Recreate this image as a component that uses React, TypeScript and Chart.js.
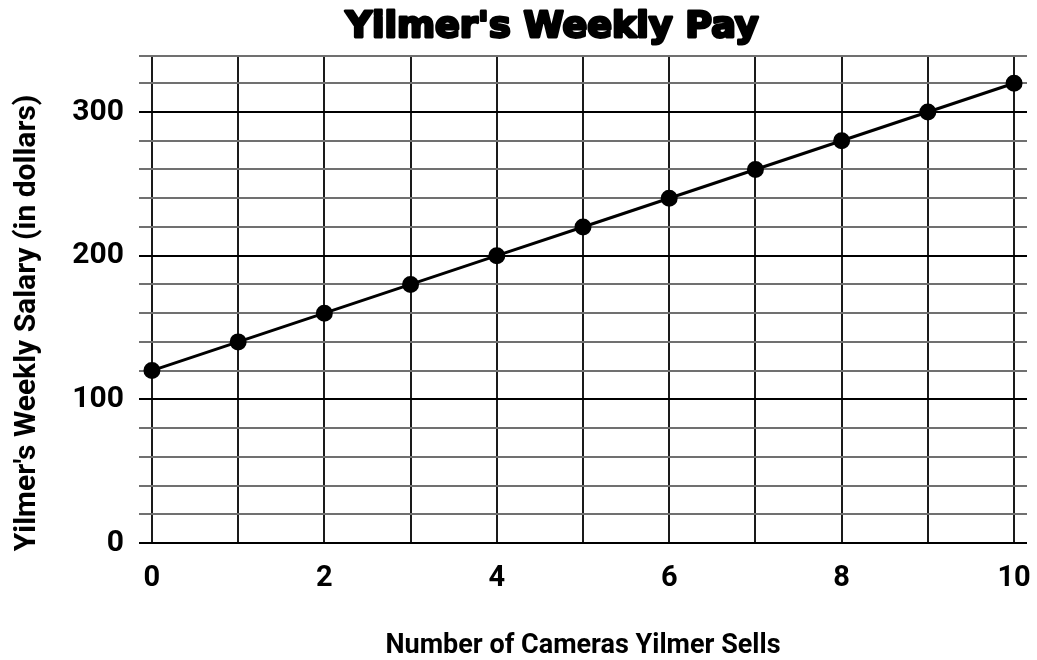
import React, { useEffect, useRef } from "react";
import { Chart, registerables } from "chart.js";

Chart.register(...registerables);

const chartTitle = "Yilmer's Weekly Pay";
const yAxisTitle = "Yilmer's Weekly Salary (in dollars)";
const xAxisTitle = "Number of Cameras Yilmer Sells";
const cameras = [0, 1, 2, 3, 4, 5, 6, 7, 8, 9, 10];
const salary = [120, 140, 160, 180, 200, 220, 240, 260, 280, 300, 320];
const xTicks = [0, 1, 2, 3, 4, 5, 6, 7, 8, 9, 10];
const yTicks = [0, 20, 40, 60, 80, 100, 120, 140, 160, 180, 200, 220, 240, 260, 280, 300, 320, 339];

const titlePlugin = {
  id: "heavyTitle",
  afterDraw(chart: any) {
    const ctx = chart.ctx;
    ctx.save();
    ctx.font = "bold 36px 'DejaVu Sans'";
    const w = ctx.measureText(chartTitle).width;
    const target = 413;
    ctx.translate(552, 37);
    ctx.scale(target / w, 1);
    ctx.textAlign = "center";
    ctx.textBaseline = "alphabetic";
    ctx.fillStyle = "#000";
    ctx.strokeStyle = "#000";
    ctx.lineWidth = 2.8;
    ctx.lineJoin = "round";
    ctx.fillText(chartTitle, 0, 0);
    ctx.strokeText(chartTitle, 0, 0);
    ctx.restore();

    ctx.save();
    ctx.translate(27, 323);
    ctx.rotate(-Math.PI / 2);
    ctx.font = "bold 30px Roboto";
    ctx.textAlign = "center";
    ctx.textBaseline = "middle";
    ctx.fillStyle = "#000";
    ctx.fillText(yAxisTitle, 0, 0);
    ctx.restore();
  },
};

export default function App() {
  const ref = useRef<HTMLCanvasElement | null>(null);
  useEffect(() => {
    if (!ref.current) return;
    const chart = new Chart(ref.current, {
      type: "line",
      data: {
        datasets: [
          {
            data: cameras.map((c, i) => ({ x: c, y: salary[i] })),
            borderColor: "#000",
            backgroundColor: "#000",
            borderWidth: 3,
            pointRadius: 7,
            pointStyle: "circle",
            pointBackgroundColor: "#000",
            pointBorderColor: "#000",
            tension: 0,
          },
        ],
      },
      options: {
        animation: false,
        responsive: false,
        maintainAspectRatio: false,
        layout: { padding: { left: 0, right: 7, top: 56, bottom: 0 } },
        plugins: {
          legend: { display: false },
          tooltip: { enabled: false },
          title: { display: false },
        },
        scales: {
          x: {
            type: "linear",
            min: -0.15,
            max: 10.15,
            afterBuildTicks: (s: any) => {
              s.ticks = xTicks.map((v) => ({ value: v }));
            },
            afterFit: (s: any) => {
              s.height = 117;
              s.paddingRight = 0;
              s.paddingLeft = 0;
            },
            border: { display: false },
            grid: { color: "#1a1a1a", lineWidth: 2, drawTicks: false },
            ticks: {
              color: "#000",
              padding: 18,
              maxRotation: 0,
              autoSkip: false,
              font: { family: "Roboto", size: 29, weight: "bold" },
              callback: (v: any) => (Number(v) % 2 === 0 ? String(v) : ""),
            },
            title: {
              display: true,
              text: xAxisTitle,
              color: "#000",
              font: { family: "Roboto", size: 27, weight: "bold" },
              padding: { top: 0, bottom: -2 },
            },
          },
          y: {
            type: "linear",
            min: 0,
            max: 339,
            afterBuildTicks: (s: any) => {
              s.ticks = yTicks.map((v) => ({ value: v }));
            },
            afterFit: (s: any) => {
              s.width = 139;
              s.paddingTop = 0;
              s.paddingBottom = 0;
            },
            border: { display: false },
            grid: {
              color: (ctx: any) => (ctx.tick && ctx.tick.value % 100 === 0 ? "#000" : "#707070"),
              lineWidth: 2,
              drawTicks: false,
            },
            ticks: {
              color: "#000",
              padding: 15,
              autoSkip: false,
              font: { family: "Roboto", size: 30, weight: "bold" },
              callback: (v: any) => (Number(v) % 100 === 0 ? String(v) : ""),
            },
            title: { display: false },
          },
        },
      },
      plugins: [titlePlugin],
    });
    return () => chart.destroy();
  }, []);
  return (
    <div style={{ position: "fixed", left: 0, top: 0, width: 1037, height: 660, background: "#fff" }}>
      <canvas ref={ref} width={1037} height={660} style={{ width: 1037, height: 660 }} />
    </div>
  );
}
